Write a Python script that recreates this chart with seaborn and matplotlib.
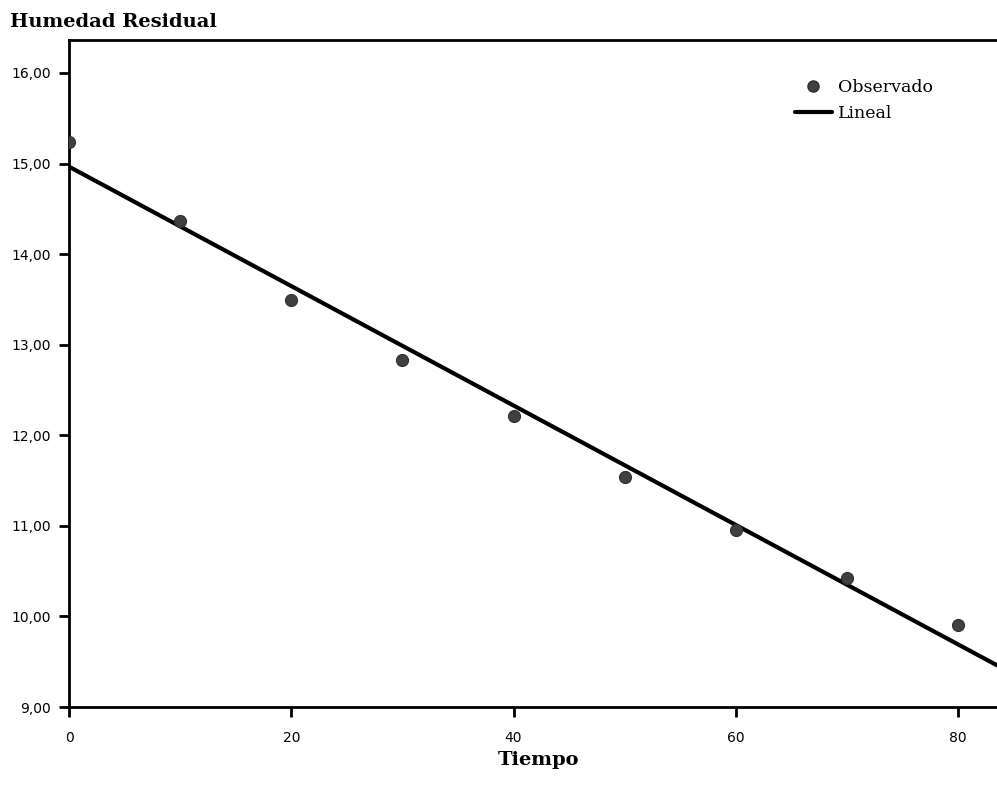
import matplotlib
matplotlib.use("Agg")
import matplotlib.pyplot as plt
import seaborn as sns
import pandas as pd
from matplotlib.ticker import FuncFormatter
from matplotlib.lines import Line2D

tiempo = [0, 10, 20, 30, 40, 50, 60, 70, 80]
humedad = [15.24, 14.37, 13.49, 12.83, 12.21, 11.54, 10.95, 10.42, 9.905]
x_ticks = [0, 20, 40, 60, 80]
y_ticks = [9, 10, 11, 12, 13, 14, 15, 16]

df = pd.DataFrame({"Tiempo": tiempo, "Humedad": humedad})

sns.set_style("white")
plt.rcParams["font.family"] = ["DejaVu Sans"]
plt.rcParams["text.color"] = "black"

fig = plt.figure(figsize=(9.97, 8.0), dpi=100)
ax = fig.add_axes([69 / 997, 1 - 707 / 800, 1 - 69 / 997, (707 - 40) / 800])
ax.set_xlim(0, 83.5)
ax.set_ylim(9, 16.364)

sns.regplot(data=df, x="Tiempo", y="Humedad", scatter=False, ci=None,
            truncate=False, color="black", line_kws={"linewidth": 3}, ax=ax)
sns.scatterplot(data=df, x="Tiempo", y="Humedad", s=75, color="#404040",
                edgecolor="#303030", linewidth=0.8, ax=ax, zorder=5)
ax.set_xlim(0, 83.5)
ax.set_ylim(9, 16.364)

ax.set_xticks(x_ticks)
ax.set_yticks(y_ticks)
ax.yaxis.set_major_formatter(FuncFormatter(lambda v, p: f"{v:.2f}".replace(".", ",")))
ax.tick_params(axis="both", direction="out", length=7, width=2, labelsize=10,
               colors="black", bottom=True, left=True)
ax.tick_params(axis="x", pad=10)
ax.tick_params(axis="y", pad=6)
for s in ["left", "bottom", "top"]:
    ax.spines[s].set_linewidth(2)
    ax.spines[s].set_color("black")
ax.spines["right"].set_visible(False)

ax.set_xlabel("")
ax.set_ylabel("")
serif = ["DejaVu Serif"]
fig.text(10 / 997, 1 - 22 / 800, "Humedad Residual", family=serif, fontweight="bold",
         fontsize=14, va="center", ha="left", color="black")
fig.text(538 / 997, 1 - 760 / 800, "Tiempo", family=serif, fontweight="bold",
         fontsize=14, va="center", ha="center", color="black")

handles = [
    Line2D([], [], marker="o", linestyle="none", markersize=8, color="#404040",
           markeredgecolor="#303030"),
    Line2D([], [], color="black", linewidth=3),
]
leg = ax.legend(handles, ["Observado", "Lineal"], loc="upper left",
                bbox_to_anchor=(795 / 997, 1 - 79 / 800), bbox_transform=fig.transFigure,
                frameon=False, prop={"family": serif, "size": 12.5},
                handlelength=2.13, handletextpad=0.35, labelspacing=0.5,
                borderpad=0, borderaxespad=0)
for t in leg.get_texts():
    t.set_color("black")

fig.savefig("out.png", dpi=100)
